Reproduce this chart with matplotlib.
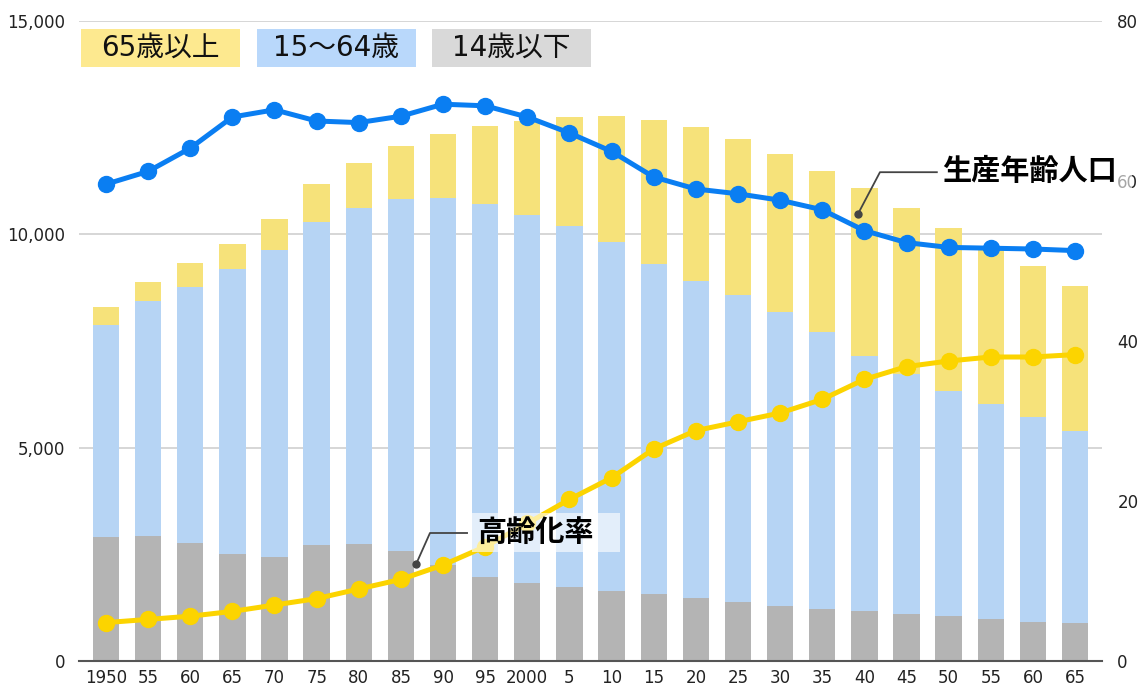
import numpy as np
import matplotlib
matplotlib.use('Agg')
import matplotlib.pyplot as plt
from matplotlib.patches import Rectangle

# DejaVu for the digits (wide, like the original), Noto CJK for Japanese
plt.rcParams['font.family'] = ['DejaVu Sans', 'Noto Sans CJK JP']

#####################  data  ####################
years = ['1950', '55', '60', '65', '70', '75', '80', '85', '90', '95', '2000', '5',
         '10', '15', '20', '25', '30', '35', '40', '45', '50', '55', '60', '65']
# population (10,000 persons)
age_0_14 = [2913, 2937, 2773, 2508, 2445, 2712, 2742, 2578, 2250, 1976, 1821, 1741,
            1641, 1577, 1477, 1383, 1282, 1212, 1172, 1109, 1055, 984, 914, 884]
age_15_64 = [4955, 5493, 5986, 6687, 7181, 7577, 7882, 8243, 8602, 8742, 8632, 8454,
             8186, 7728, 7422, 7188, 6891, 6499, 5976, 5611, 5266, 5039, 4805, 4507]
age_65 = [422, 453, 562, 585, 726, 884, 1055, 1249, 1493, 1821, 2210, 2548,
          2946, 3368, 3610, 3663, 3703, 3766, 3931, 3890, 3834, 3704, 3539, 3405]
# ratios (%)
working_ratio = [59.6, 61.2, 64.1, 68.0, 68.9, 67.5, 67.3, 68.1, 69.6, 69.4, 68.0, 66.0,
                 63.7, 60.5, 59.0, 58.4, 57.6, 56.4, 53.8, 52.3, 51.7, 51.6, 51.5, 51.3]
aging_ratio = [4.8, 5.2, 5.6, 6.2, 7.0, 7.8, 9.0, 10.2, 12.0, 14.3, 17.2, 20.2,
               22.9, 26.5, 28.8, 29.9, 31.0, 32.7, 35.2, 36.8, 37.5, 38.0, 38.0, 38.3]

#####################  colors  ####################
C_GRAY = '#b4b4b4'
C_BLUE = '#b6d4f4'
C_YEL = '#f6e27a'
C_LINE_BLUE = '#0a7ef2'
C_LINE_YEL = '#fcd400'
JP = ['Noto Sans CJK JP', 'DejaVu Sans']

x = np.arange(len(years))
g = np.array(age_0_14)
b = np.array(age_15_64)
o = np.array(age_65)

fig = plt.figure(figsize=(11.4, 6.87), dpi=100)
ax = fig.add_axes([79 / 1140, 26 / 687, 1023 / 1140, 640 / 687])

# stacked bars
w = 0.625
ax.bar(x, g, w, color=C_GRAY, zorder=2)
ax.bar(x, b, w, bottom=g, color=C_BLUE, zorder=2)
ax.bar(x, o, w, bottom=g + b, color=C_YEL, zorder=2)

ax.set_xlim(-0.64, len(years) - 0.36)
ax.set_ylim(0, 15000)
ax.set_yticks([0, 5000, 10000, 15000])
ax.set_yticklabels(['0', '5,000', '10,000', '15,000'])
ax.set_xticks(x)
ax.set_xticklabels(years)
ax.yaxis.grid(True, color='#d0d0d0', linewidth=1.2, zorder=0)
ax.set_axisbelow(True)
for s in ['left', 'right', 'top']:
    ax.spines[s].set_visible(False)
ax.spines['bottom'].set_color('#555555')
ax.spines['bottom'].set_linewidth(1.5)
ax.tick_params(axis='both', length=0, labelsize=12, colors='#222222')
ax.tick_params(axis='x', pad=6)
ax.tick_params(axis='y', pad=10)

# ratio lines on right axis
ax2 = ax.twinx()
ax2.set_ylim(0, 80)
ax2.set_yticks([0, 20, 40, 60, 80])
for s in ax2.spines.values():
    s.set_visible(False)
ax2.tick_params(axis='y', length=0, labelsize=12, colors='#222222', pad=11)
ax2.plot(x, working_ratio, color=C_LINE_BLUE, lw=3.6, marker='o', ms=11.5, zorder=5)
ax2.plot(x, aging_ratio, color=C_LINE_YEL, lw=3.6, marker='o', ms=11.5, zorder=5)

# label: 生産年齢人口
ax2.plot([17.85, 18.37, 19.72], [55.9, 61.1, 61.1], color='#444444', lw=1.3, zorder=7)
ax2.plot([17.85], [55.9], 'o', color='#444444', ms=5, zorder=7)
ax2.add_patch(Rectangle((19.76, 58.9), 4.6, 4.5, facecolor='white', alpha=0.6,
                        edgecolor='none', clip_on=False, zorder=8))
ax2.text(19.85, 61.2, '生産年齢人口', fontsize=21, fontweight='bold', color='black',
         family=JP, va='center', ha='left', clip_on=False, zorder=9)

# label: 高齢化率
ax2.add_patch(Rectangle((8.69, 13.6), 3.51, 4.9, facecolor='white', alpha=0.62,
                        edgecolor='none', zorder=8))
ax2.plot([7.36, 7.69, 8.57], [12.1, 16.0, 16.0], color='#444444', lw=1.3, zorder=7)
ax2.plot([7.36], [12.1], 'o', color='#444444', ms=5, zorder=7)
ax2.text(8.81, 16.1, '高齢化率', fontsize=21, fontweight='bold', color='black',
         family=JP, va='center', ha='left', zorder=9)

# legend boxes
legend_items = [('65歳以上', '#fde98f', 81), ('15～64歳', '#b9d8fb', 257), ('14歳以下', '#d9d9d9', 432)]
for label, col, px in legend_items:
    fig.add_artist(Rectangle((px / 1140, 1 - 67 / 687), 159 / 1140, 38 / 687,
                             facecolor=col, edgecolor='none', transform=fig.transFigure))
    fig.text((px + 79.5) / 1140, 1 - 48 / 687, label, fontsize=20, color='#111111',
             ha='center', va='center')

fig.savefig('out.png', dpi=100)
